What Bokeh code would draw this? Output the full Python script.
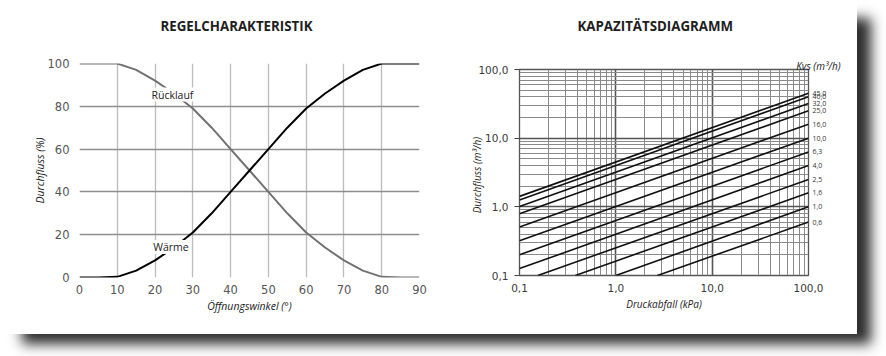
from jinja2 import Template
from bokeh.plotting import figure
from bokeh.models import FixedTicker, Label, LogAxis, Title
from bokeh.embed import file_html
from bokeh.resources import INLINE

# ---------------- data: Regelcharakteristik ----------------
angle = [0, 5, 10, 15, 20, 25, 30, 35, 40, 45, 50, 55, 60, 65, 70, 75, 80, 85, 90]
waerme = [0, 0, 0.3, 3.2, 8, 14, 21, 30, 40, 50, 60, 70, 79, 86, 92, 97, 100, 100, 100]
ruecklauf = [100, 100, 100, 97, 92, 86, 79, 70, 60, 50, 40, 30, 21, 14, 8, 3.2, 0.3, 0, 0]
left_xticks = [0, 10, 20, 30, 40, 50, 60, 70, 80, 90]
left_yticks = [0, 20, 40, 60, 80, 100]

# ---------------- data: Kapazitaetsdiagramm ----------------
kvs = [45.0, 40.0, 32.0, 25.0, 16.0, 10.0, 6.3, 4.0, 2.5, 1.6, 1.0, 0.6]
kvs_labels = ["45,0", "40,0", "32,0", "25,0", "16,0", "10,0", "6,3", "4,0", "2,5", "1,6", "1,0", "0,6"]
dp_start = [0.1, 0.1, 0.1, 0.1, 0.1, 0.1, 0.1, 0.1, 0.155, 0.38, 1.0, 2.7]
q_start = [1.42, 1.26, 1.01, 0.79, 0.51, 0.32, 0.2, 0.126, 0.1, 0.1, 0.1, 0.1]
dp_end = [100.0] * len(kvs)
q_end = kvs
log_majors = [0.1, 1.0, 10.0, 100.0]
log_major_labels = {0.1: "0,1", 1.0: "1,0", 10.0: "10,0", 100.0: "100,0"}
log_minors = [m * d for d in (0.1, 1.0, 10.0) for m in (2, 3, 4, 5, 6, 7, 8, 9)]

FONT = "Open Sans"
TICKFONT = "DejaVu Sans"

LEFT_SHIFT = 15    # figure div is moved up so that the frame sits at its place
RIGHT_SHIFT = 11


def main_title(text, offset, standoff):
    return Title(text=text, align="left", offset=offset, standoff=standoff,
                 text_font=FONT, text_font_style="bold", text_font_size="13.3px",
                 text_color="#1e1e1e")


# ---------------- left figure ----------------
p1 = figure(width=443, height=334 + LEFT_SHIFT, x_range=(0, 90), y_range=(0, 100),
            output_backend="svg", toolbar_location=None, name="regel",
            min_border_left=79, min_border_right=24, min_border_top=0, min_border_bottom=57)
p1.outline_line_color = None
p1.border_fill_color = "white"
p1.add_layout(main_title("REGELCHARAKTERISTIK", 81, 58), "above")

xax1 = p1.below[0]
yax1 = p1.left[0]
xax1.ticker = FixedTicker(ticks=left_xticks)
yax1.ticker = FixedTicker(ticks=left_yticks)
p1.xgrid.ticker = FixedTicker(ticks=left_xticks)
p1.ygrid.ticker = FixedTicker(ticks=left_yticks)
p1.xgrid.grid_line_color = "#bcbcbc"
p1.xgrid.grid_line_width = 1.3
p1.ygrid.grid_line_color = "#8e8e8e"
p1.ygrid.grid_line_width = 1.4
for ax in (xax1, yax1):
    ax.axis_line_color = None
    ax.major_tick_line_color = None
    ax.minor_tick_line_color = None
    ax.major_tick_out = 0
    ax.minor_tick_out = 0
    ax.major_label_text_font = TICKFONT
    ax.major_label_text_font_size = "11.5px"
    ax.major_label_text_color = "#555555"
    ax.axis_label_text_font = FONT
    ax.axis_label_text_font_style = "italic"
    ax.axis_label_text_font_size = "10.5px"
    ax.axis_label_text_color = "#222222"
xax1.axis_label = "Öffnungswinkel (°)"
yax1.axis_label = "Durchfluss (%)"
xax1.major_label_standoff = 7
yax1.major_label_standoff = 10
xax1.axis_label_standoff = 2
yax1.axis_label_standoff = -2

p1.line(angle, ruecklauf, line_color="#727272", line_width=2)
p1.line(angle, waerme, line_color="#000000", line_width=2)

for txt, x, y in (("Rücklauf", 24.6, 85.5), ("Wärme", 24.2, 14.2)):
    p1.add_layout(Label(x=x, y=y, text=txt, text_align="center", text_baseline="middle",
                        text_font=FONT, text_font_size="10.5px", text_color="#222222",
                        background_fill_color="white", border_line_color=None))

# ---------------- right figure ----------------
p2 = figure(width=414, height=334 + RIGHT_SHIFT, x_axis_type="log", y_axis_type="log",
            x_range=(0.1, 100), y_range=(0.1, 100),
            output_backend="svg", toolbar_location=None, name="kapaz",
            min_border_left=76, min_border_right=49, min_border_top=0, min_border_bottom=59)
p2.outline_line_color = "#555555"
p2.outline_line_width = 1.3
p2.border_fill_color = "white"
p2.add_layout(Title(text="Kvs (m³/h)", align="right", offset=-32, standoff=-6,
                    text_font=FONT, text_font_style="italic", text_font_size="10px",
                    text_color="#222222"), "above")
p2.add_layout(main_title("KAPAZITÄTSDIAGRAMM", 58, 50), "above")

xax2 = p2.below[0]
yax2 = p2.left[0]
xax2.ticker = FixedTicker(ticks=log_majors)
yax2.ticker = FixedTicker(ticks=log_majors)
p2.xgrid.ticker = FixedTicker(ticks=log_majors, minor_ticks=log_minors)
p2.ygrid.ticker = FixedTicker(ticks=log_majors, minor_ticks=log_minors)
for g in (p2.xgrid, p2.ygrid):
    g.grid_line_color = "#555555"
    g.grid_line_width = 1.6
    g.minor_grid_line_color = "#8a8a8a"
    g.minor_grid_line_width = 1.0
for ax in (xax2, yax2):
    ax.axis_line_color = None
    ax.minor_tick_line_color = None
    ax.minor_tick_out = 0
    ax.major_label_overrides = log_major_labels
    ax.major_label_text_font = TICKFONT
    ax.major_label_text_font_size = "10.5px"
    ax.major_label_text_color = "#3a3a3a"
    ax.axis_label_text_font = FONT
    ax.axis_label_text_font_style = "italic"
    ax.axis_label_text_font_size = "10px"
    ax.axis_label_text_color = "#222222"
xax2.major_tick_line_color = None
xax2.major_tick_out = 0
yax2.major_tick_line_color = "#444444"
yax2.major_tick_in = 0
yax2.major_tick_out = 5
xax2.axis_label = "Druckabfall (kPa)"
yax2.axis_label = "Durchfluss   (m³/h)"
xax2.major_label_standoff = 8
yax2.major_label_standoff = 6
xax2.axis_label_standoff = 2
yax2.axis_label_standoff = -9

xs = [[a, b] for a, b in zip(dp_start, dp_end)]
ys = [[a, b] for a, b in zip(q_start, q_end)]
p2.multi_line(xs, ys, line_color="#111111", line_width=1.6)

kvs_axis = LogAxis(ticker=FixedTicker(ticks=kvs),
                   major_label_overrides=dict(zip(kvs, kvs_labels)),
                   axis_line_color=None, major_tick_line_color=None, minor_tick_line_color=None,
                   major_tick_in=0, major_tick_out=0, minor_tick_out=0, major_label_standoff=4,
                   major_label_text_font=FONT, major_label_text_font_size="7px",
                   major_label_text_color="#333333")
p2.add_layout(kvs_axis, "right")

TEMPLATE = Template("""{% from macros import embed %}
<!DOCTYPE html>
<html lang="de">
<head>
<meta charset="utf-8">
<title>{{ title }}</title>
<style>html, body { margin: 0; padding: 0; background: #ffffff; overflow: hidden; }</style>
{{ bokeh_css }}
{{ bokeh_js }}
</head>
<body>
<div style="position:absolute; left:0; top:0; width:857px; height:334px; background:#ffffff; box-shadow: 18px 14px 12px -4px #2e2e2e; overflow: hidden;">
<div style="position:absolute; left:0; top:-""" + str(LEFT_SHIFT) + """px;">{{ embed(roots.regel) }}</div>
<div style="position:absolute; left:443px; top:-""" + str(RIGHT_SHIFT) + """px;">{{ embed(roots.kapaz) }}</div>
</div>
{{ plot_script }}
</body>
</html>
""")

open("out.html", "w").write(file_html([p1, p2], INLINE, title="Diagramme", template=TEMPLATE))
